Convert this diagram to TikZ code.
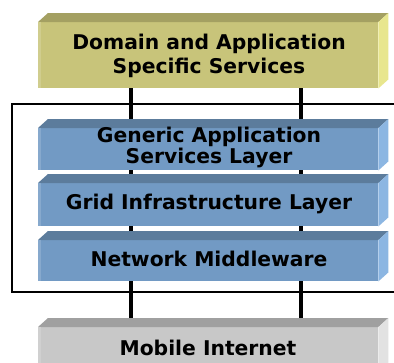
\documentclass[tikz,border=0pt]{standalone}
\usepackage{fontspec}
\setmainfont{DejaVu Sans}
\usetikzlibrary{calc}
\definecolor{yfront}{RGB}{200,196,122}
\definecolor{ytop}{RGB}{164,160,98}
\definecolor{yside}{RGB}{232,230,142}
\definecolor{bfront}{RGB}{114,154,196}
\definecolor{btop}{RGB}{92,124,156}
\definecolor{bside}{RGB}{140,182,226}
\definecolor{gfront}{RGB}{200,200,200}
\definecolor{gtop}{RGB}{160,160,160}
\definecolor{gside}{RGB}{226,226,226}
\tikzset{
  layerbox/.style={inner sep=0pt, minimum width=340pt, anchor=north west},
  label/.style={inner sep=0pt, anchor=base, align=center,
    font=\bfseries\fontsize{20.3}{24}\selectfont, text=black},
  link/.style={line width=4pt, black},
  frame/.style={line width=1.3pt, black}
}
\newcommand{\faces}[4]{%
  \fill[#2] (#1.north west) -- ++(10,-9) -- ($(#1.north east)+(10,-9)$) -- (#1.north east) -- cycle;
  \fill[#3] (#1.north east) -- ($(#1.north east)+(10,-9)$) -- ($(#1.south east)+(10,-9)$) -- (#1.south east) -- cycle;
  \fill[#4] (#1.north west) rectangle ($(#1.south west)+(3,0)$);
}
\begin{document}
\begin{tikzpicture}[x=1pt,y=-1pt]
\useasboundingbox (0,0) rectangle (394,362);
\clip (0,0) rectangle (394,362);
\fill[white] (0,0) rectangle (394,362);
% connectors (behind)
\coordinate (l1) at (131,80);
\coordinate (l2) at (131,330);
\coordinate (r1) at (301,80);
\coordinate (r2) at (301,330);
\draw[link] (l1) -- (l2);
\draw[link] (r1) -- (r2);
% frame
\draw[frame] (400,104) -- (12,104) -- (12,292) -- (400,292);
% boxes
\node[layerbox, fill=yfront, minimum height=66pt] (dom) at (38,22) {};
\faces{dom}{ytop}{yside}{yfront!85!white}
\node[layerbox, fill=bfront, minimum height=42pt] (gen) at (38,128) {};
\faces{gen}{btop}{bside}{bfront!85!white}
\node[layerbox, fill=bfront, minimum height=43pt] (grid) at (38,183) {};
\faces{grid}{btop}{bside}{bfront!85!white}
\node[layerbox, fill=bfront, minimum height=41pt] (net) at (38,240) {};
\faces{net}{btop}{bside}{bfront!85!white}
\node[layerbox, fill=gfront, minimum height=50pt] (mob) at (38,327) {};
\faces{mob}{gtop}{gside}{gfront!85!white}
% labels
\node[label] (domt) at (209,73) {Domain and Application\\Specific Services};
\node[label, font=\bfseries\fontsize{20.3}{19}\selectfont] (gent) at (209,163) {Generic Application\\Services Layer};
\node[label] (gridt) at (209,209) {Grid Infrastructure Layer};
\node[label] (nett) at (209,266) {Network Middleware};
\node[label] (mobt) at (208,355) {Mobile Internet};
\end{tikzpicture}
\end{document}
